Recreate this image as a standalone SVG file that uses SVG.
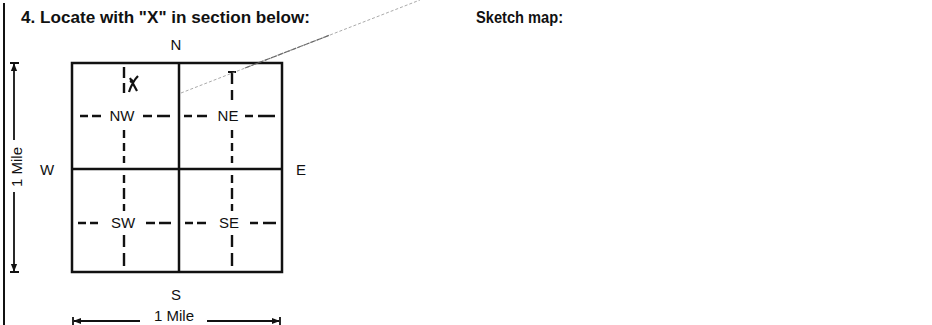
<svg xmlns="http://www.w3.org/2000/svg" width="932" height="325" viewBox="0 0 932 325">
<defs>
<style>
text{font-family:"Liberation Sans",Arial,sans-serif;fill:#111}
.t{font-size:16px;font-weight:bold}
.l{font-size:15px}
.q{font-size:15px}
.box{fill:none;stroke:#111;stroke-width:2.5}
.d{stroke:#111;stroke-width:2.4;fill:none}
.a{stroke:#111;stroke-width:1.8;fill:none}
</style>
<marker id="ah" viewBox="0 0 10 10" refX="9" refY="5" markerWidth="8" markerHeight="8" markerUnits="userSpaceOnUse" orient="auto-start-reverse"><path d="M0,1 L10,5 L0,9 z" fill="#111"/></marker>
</defs>
<rect width="932" height="325" fill="#fff"/>
<line x1="4" y1="3" x2="4" y2="325" stroke="#111" stroke-width="2"/>
<text class="t" x="21" y="23" textLength="289" lengthAdjust="spacingAndGlyphs">4. Locate with "X" in section below:</text>
<text class="t" x="476" y="23" textLength="87" lengthAdjust="spacingAndGlyphs">Sketch map:</text>
<g id="grid">
<rect class="box" x="72" y="63" width="210" height="209"/>
<line class="box" x1="179" y1="63" x2="179" y2="272"/>
<line class="box" x1="72" y1="169" x2="282" y2="169"/>
</g>
<g id="labels">
<text class="l" x="176" y="50" text-anchor="middle">N</text>
<text class="l" x="47" y="175" text-anchor="middle">W</text>
<text class="l" x="301" y="175" text-anchor="middle">E</text>
<text class="l" x="176" y="300" text-anchor="middle">S</text>
</g>
<g id="nw">
<path class="d" d="M80,116 H88 M92,116 H101 M143,116 H152 M157,116 H170"/>
<path class="d" d="M124,67 V78 M124,83 V93 M124,130 V138 M124,143 V151 M124,156 V163"/>
<text class="q" x="122" y="121" text-anchor="middle">NW</text>
<path d="M130,78 L137,91 M138,76 C134,80 131,86 129,92 M130,82 L133,80" stroke="#111" stroke-width="2.2" fill="none"/>
</g>
<g id="ne">
<path class="d" d="M184,116 H192 M197,116 H207 M245,116 H253 M258,116 H275"/>
<path class="d" d="M232,72 V84 M232,90 V100 M232,130 V138 M232,143 V151 M232,156 V163"/>
<path d="M228,72 H236" stroke="#111" stroke-width="2"/>
<text class="q" x="228" y="121" text-anchor="middle">NE</text>
</g>
<g id="sw">
<path class="d" d="M78,223 H86 M90,223 H98 M146,223 H155 M159,223 H171"/>
<path class="d" d="M124,175 V183 M124,188 V199 M124,204 V211 M124,235 V247 M124,253 V266"/>
<text class="q" x="123" y="228" text-anchor="middle">SW</text>
</g>
<g id="se">
<path class="d" d="M185,223 H193 M197,223 H206 M250,223 H258 M263,223 H276"/>
<path class="d" d="M232,175 V183 M232,188 V199 M232,204 V211 M232,235 V247 M232,253 V266"/>
<text class="q" x="229" y="228" text-anchor="middle">SE</text>
</g>
<g id="connectors">
<line x1="181" y1="93" x2="420" y2="0" stroke="#888" stroke-width="1" stroke-dasharray="3 2" opacity="0.7"/>
<line x1="245" y1="68" x2="330" y2="35" stroke="#555" stroke-width="1.2" stroke-dasharray="6 1" opacity="0.8"/>
<path d="M10,63 H19 M10,272 H19" class="a"/>
<line class="a" x1="14" y1="140" x2="14" y2="64" marker-end="url(#ah)"/>
<line class="a" x1="14" y1="192" x2="14" y2="271" marker-end="url(#ah)"/>
<path d="M73,317 V325 M280,317 V325" class="a"/>
<line class="a" x1="140" y1="321" x2="74" y2="321" marker-end="url(#ah)"/>
<line class="a" x1="207" y1="321" x2="279" y2="321" marker-end="url(#ah)"/>
</g>
<text class="l" transform="translate(22,167) rotate(-90)" text-anchor="middle">1 Mile</text>
<text class="l" x="174" y="321" text-anchor="middle">1 Mile</text>
</svg>
